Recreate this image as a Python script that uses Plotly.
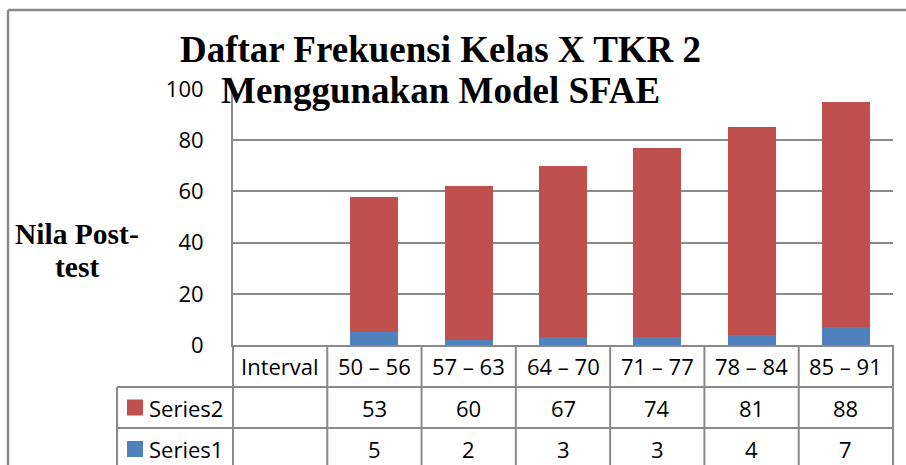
import plotly.graph_objects as go

# ---------------- data ----------------
categories = ["Interval", "50 – 56", "57 – 63", "64 – 70", "71 – 77", "78 – 84", "85 – 91"]
series1 = [None, 5, 2, 3, 3, 4, 7]
series2 = [None, 53, 60, 67, 74, 81, 88]
series_names = ["Series2", "Series1"]
title_lines = ["Daftar Frekuensi Kelas X TKR 2", "Menggunakan Model SFAE"]
ytitle_lines = ["Nila Post-", "test"]
yticks = [0, 20, 40, 60, 80, 100]

# ---------------- style ----------------
W, H = 906, 465
ML, MR, MT, MB = 233, 13, 89, 120
PW, PH = W - ML - MR, H - MT - MB
RED, BLUE = "#C0504D", "#4F81BD"
GRAY = "#8a8a8a"
SANS = "'Open Sans', Lato, sans-serif"
SERIF = "'Liberation Serif', 'Times New Roman', serif"
FS = 22


def px_x(p):
    # page pixel -> paper x
    return (p - ML) / PW


def px_y(p):
    # page pixel -> paper y
    return (H - MB - p) / PH


fig = go.Figure()
fig.add_trace(go.Bar(x=categories, y=series1, name="Series1", marker=dict(color=BLUE, line=dict(width=0))))
fig.add_trace(go.Bar(x=categories, y=series2, name="Series2", marker=dict(color=RED, line=dict(width=0))))

n = len(categories)
shapes = []
annotations = []

# table rows (pixel tops/bottoms)
row_header = (345, 387)
row_s2 = (387, 428)
row_s1 = (428, 470)
legend_left = 117
bottom = H + 5

# horizontal lines
for yy in [row_header[1], row_s2[1]]:
    shapes.append(dict(type="line", xref="paper", yref="paper", x0=px_x(legend_left), x1=1,
                       y0=px_y(yy), y1=px_y(yy), line=dict(color=GRAY, width=2)))
# vertical lines at category boundaries
for k in range(n + 1):
    xb = k / n
    shapes.append(dict(type="line", xref="paper", yref="paper", x0=xb, x1=xb,
                       y0=0, y1=px_y(bottom), line=dict(color=GRAY, width=2)))
# legend column left line
shapes.append(dict(type="line", xref="paper", yref="paper", x0=px_x(legend_left), x1=px_x(legend_left),
                   y0=px_y(row_header[1]), y1=px_y(bottom), line=dict(color=GRAY, width=2)))
# outer chart border (top and left edges only visible)
shapes.append(dict(type="line", xref="paper", yref="paper", x0=px_x(8), x1=px_x(W + 5),
                   y0=px_y(10), y1=px_y(10), line=dict(color=GRAY, width=2.5)))
shapes.append(dict(type="line", xref="paper", yref="paper", x0=px_x(8), x1=px_x(8),
                   y0=px_y(10), y1=px_y(bottom), line=dict(color=GRAY, width=2.5)))

# header row labels
for c in categories:
    annotations.append(dict(x=c, xref="x", yref="paper", y=px_y(sum(row_header) / 2), text=c,
                            showarrow=False, font=dict(family=SANS, size=FS, color="#000"),
                            xanchor="center", yanchor="middle"))
# value rows
for name, vals, row, col in [("Series2", series2, row_s2, RED), ("Series1", series1, row_s1, BLUE)]:
    cy = (row[0] + row[1]) / 2
    for c, v in zip(categories, vals):
        if v is None:
            continue
        annotations.append(dict(x=c, xref="x", yref="paper", y=px_y(cy), text=str(v),
                                showarrow=False, font=dict(family=SANS, size=FS, color="#000"),
                                xanchor="center", yanchor="middle"))
    shapes.append(dict(type="rect", xref="paper", yref="paper", x0=px_x(127), x1=px_x(143),
                       y0=px_y(cy + 8), y1=px_y(cy - 8), line=dict(width=0), fillcolor=col))
    annotations.append(dict(x=px_x(147), xref="paper", yref="paper", y=px_y(cy), text=name,
                            showarrow=False, font=dict(family=SANS, size=FS, color="#000"),
                            xanchor="left", yanchor="middle"))

# title lines
for txt, cy in zip(title_lines, [49, 90]):
    annotations.append(dict(x=px_x(440), xref="paper", yref="paper", y=px_y(cy), text="<b>%s</b>" % txt,
                            showarrow=False, font=dict(family=SERIF, size=37, color="#000"),
                            xanchor="center", yanchor="middle"))
# y axis title lines
for txt, cy in zip(ytitle_lines, [234, 267]):
    annotations.append(dict(x=px_x(76.5), xref="paper", yref="paper", y=px_y(cy), text="<b>%s</b>" % txt,
                            showarrow=False, font=dict(family=SERIF, size=29.5, color="#000"),
                            xanchor="center", yanchor="middle"))

fig.update_layout(
    width=W, height=H,
    margin=dict(l=ML, r=MR, t=MT, b=MB, pad=0),
    paper_bgcolor="white", plot_bgcolor="white",
    barmode="stack", bargap=0.49,
    showlegend=False,
    shapes=shapes, annotations=annotations,
    xaxis=dict(type="category", categoryorder="array", categoryarray=categories,
               range=[-0.5, n - 0.5], showticklabels=False, ticks="", showgrid=False,
               showline=True, linecolor=GRAY, linewidth=2, zeroline=False, fixedrange=True),
    yaxis=dict(range=[0, 100], tickvals=yticks, ticks="", showgrid=True, gridcolor=GRAY, gridwidth=1.5,
               showline=True, linecolor=GRAY, linewidth=2, zeroline=False,
               tickfont=dict(family=SANS, size=FS, color="#000"), ticklabelstandoff=23,
               fixedrange=True),
)

fig.write_html("out.html", config={"displayModeBar": False},
               post_script="document.body.style.margin='0';document.body.style.overflow='hidden';")
